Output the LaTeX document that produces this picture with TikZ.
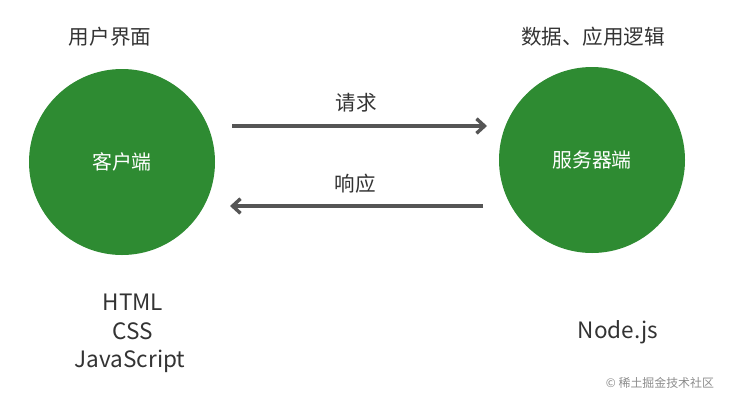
\documentclass[tikz,border=0pt]{standalone}
\usepackage{fontspec}
\setmainfont{Noto Sans CJK SC}
\usetikzlibrary{arrows.meta}
\definecolor{sitegreen}{RGB}{46,139,50}
\definecolor{arrowgray}{RGB}{85,85,85}
\tikzset{
  side/.style={circle, fill=sitegreen, minimum size=186*0.0265cm, inner sep=0pt, text=white, font=\fontsize{15}{17}\selectfont},
  caption/.style={font=\fontsize{15.5}{18}\selectfont, text=black!80},
  flow/.style={draw=arrowgray, line width=2.6pt, -{Straight Barb[length=6pt, width=11pt]}}
}
\begin{document}
\begin{tikzpicture}[x=0.0265cm, y=-0.0265cm]
\useasboundingbox (0,0) rectangle (738,405);
% clients and server
\node[side] (client) at (122,162) {客户端};
\node[side] (server) at (592,160) {服务器端};
\node[caption] (ui) at (110,37) {用户界面};
\node[caption] (logic) at (593,37) {数据、应用逻辑};
% requests
\coordinate (reqa) at (232,126);
\coordinate (reqb) at (487,126);
\coordinate (resa) at (483,206);
\coordinate (resb) at (230,206);
\draw[flow] (reqa) -- (reqb);
\draw[flow] (resa) -- (resb);
\node[caption] (req) at (356,103) {请求};
\node[caption] (res) at (355,184) {响应};
% technologies
\node[caption, font=\fontsize{17}{20}\selectfont] (html) at (133,302) {HTML};
\node[caption, font=\fontsize{17}{20}\selectfont] (css) at (133,331) {CSS};
\node[caption, font=\fontsize{17}{20}\selectfont] (js) at (130,361) {JavaScript};
\node[caption, font=\fontsize{17}{20}\selectfont] (node) at (618,332) {Node.js};
\node[font=\fontsize{9}{10}\selectfont, text=black!45] (mark) at (660,383) {© 稀土掘金技术社区};
\end{tikzpicture}
\end{document}
